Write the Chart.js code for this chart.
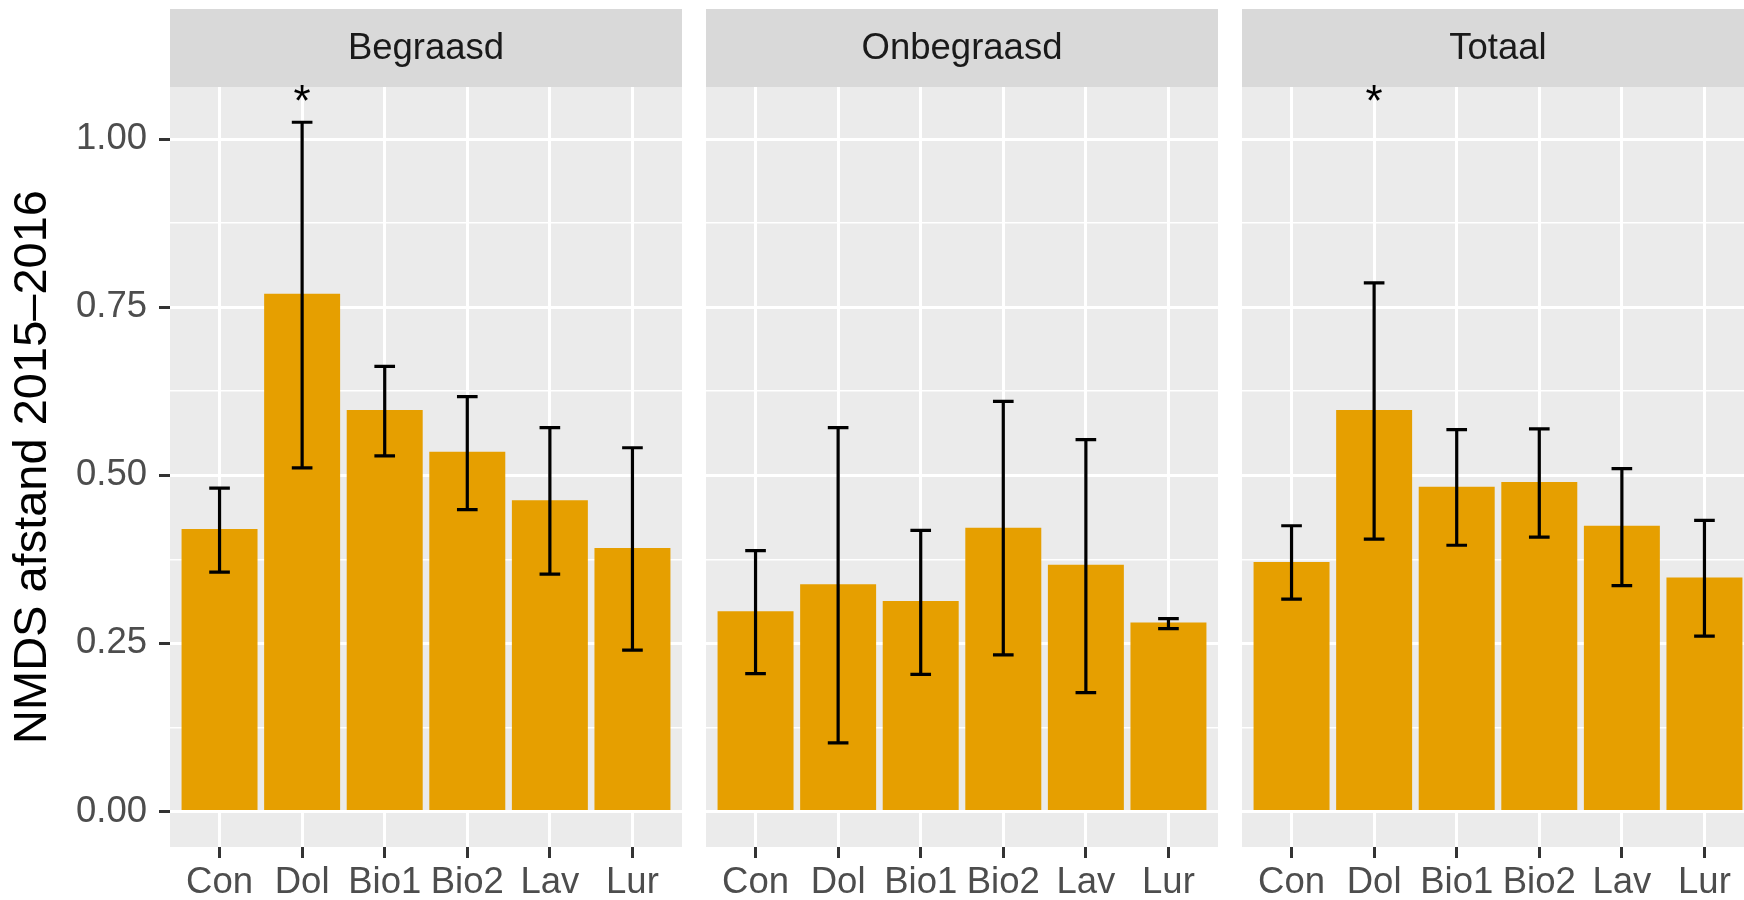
<!DOCTYPE html>
<html>
<head>
<meta charset="utf-8">
<script src="https://cdn.jsdelivr.net/npm/chart.js@4.4.1/dist/chart.umd.min.js"></script>
<style>
  html, body { margin: 0; padding: 0; background: #ffffff; overflow: hidden; width: 1744px; height: 900px; }
  canvas { position: absolute; top: 0; }
</style>
</head>
<body>
<canvas id="begraasd" width="682" height="900" style="left:0px"></canvas>
<canvas id="onbegraasd" width="512" height="900" style="left:706px"></canvas>
<canvas id="totaal" width="512" height="900" style="left:1242px"></canvas>
<script>
var categories = ['Con', 'Dol', 'Bio1', 'Bio2', 'Lav', 'Lur'];
var yTicks = [0, 0.125, 0.25, 0.375, 0.5, 0.625, 0.75, 0.875, 1];

var begraasdMean = [0.420, 0.770, 0.597, 0.535, 0.463, 0.392];
var begraasdLow  = [0.356, 0.511, 0.529, 0.449, 0.353, 0.240];
var begraasdHigh = [0.481, 1.025, 0.662, 0.617, 0.571, 0.541];
var begraasdStars = ['', '*', '', '', '', ''];

var onbegraasdMean = [0.298, 0.338, 0.313, 0.422, 0.367, 0.281];
var onbegraasdLow  = [0.205, 0.102, 0.204, 0.233, 0.177, 0.272];
var onbegraasdHigh = [0.388, 0.571, 0.418, 0.610, 0.553, 0.287];
var onbegraasdStars = ['', '', '', '', '', ''];

var totaalMean = [0.371, 0.597, 0.483, 0.490, 0.425, 0.348];
var totaalLow  = [0.316, 0.405, 0.396, 0.408, 0.336, 0.261];
var totaalHigh = [0.425, 0.786, 0.568, 0.569, 0.510, 0.433];
var totaalStars = ['', '*', '', '', '', ''];

var starY = 1.035;
var FONT = '"Liberation Sans", Arial, Helvetica, sans-serif';

function isMajor(v) {
    return Math.abs(v * 4 - Math.round(v * 4)) < 1e-9;
}

// panel background, facet strip, error bars and the significance stars
var facetPlugin = {
    id: 'facet',
    beforeDraw: function(chart, args, opts) {
        var ctx = chart.ctx;
        var a = chart.chartArea;
        ctx.save();
        ctx.fillStyle = '#EBEBEB';
        ctx.fillRect(a.left, a.top, a.right - a.left, a.bottom - a.top);
        ctx.fillStyle = '#D9D9D9';
        ctx.fillRect(a.left, 9, a.right - a.left, a.top - 9);
        ctx.fillStyle = '#1A1A1A';
        ctx.font = '36.5px ' + FONT;
        ctx.textAlign = 'center';
        ctx.textBaseline = 'middle';
        ctx.fillText(opts.title, (a.left + a.right) / 2, (9 + a.top) / 2 + 1);
        ctx.restore();
    },
    afterDatasetsDraw: function(chart, args, opts) {
        var ctx = chart.ctx;
        var xs = chart.scales.x;
        var ys = chart.scales.y;
        var half = (xs.getPixelForValue(2) - xs.getPixelForValue(1)) * 0.25 / 2;
        ctx.save();
        ctx.strokeStyle = '#000000';
        ctx.lineWidth = 3.2;
        for (var i = 0; i < categories.length; i++) {
            var px = xs.getPixelForValue(i + 1);
            var lo = ys.getPixelForValue(opts.low[i]);
            var hi = ys.getPixelForValue(opts.high[i]);
            ctx.beginPath();
            ctx.moveTo(px, lo);
            ctx.lineTo(px, hi);
            ctx.moveTo(px - half, lo);
            ctx.lineTo(px + half, lo);
            ctx.moveTo(px - half, hi);
            ctx.lineTo(px + half, hi);
            ctx.stroke();
            if (opts.stars[i]) {
                ctx.fillStyle = '#000000';
                ctx.font = '44px ' + FONT;
                ctx.textAlign = 'center';
                ctx.textBaseline = 'alphabetic';
                ctx.fillText(opts.stars[i], px, ys.getPixelForValue(starY));
            }
        }
        ctx.restore();
    }
};

function makeChart(id, title, mean, low, high, stars, first) {
    var ctx = document.getElementById(id).getContext('2d');
    return new Chart(ctx, {
        type: 'bar',
        data: {
            datasets: [{
                data: mean.map(function(v, i) { return { x: i + 1, y: v }; }),
                backgroundColor: '#E69F00',
                borderWidth: 0,
                barPercentage: 0.92,
                categoryPercentage: 1.0
            }]
        },
        options: {
            responsive: false,
            animation: false,
            layout: { padding: { top: 87, left: 0, right: 0, bottom: 0 } },
            plugins: {
                legend: { display: false },
                tooltip: { enabled: false },
                facet: { title: title, low: low, high: high, stars: stars }
            },
            scales: {
                x: {
                    type: 'linear',
                    min: 0.4,
                    max: 6.6,
                    offset: false,
                    afterBuildTicks: function(s) {
                        s.ticks = categories.map(function(_, i) { return { value: i + 1 }; });
                    },
                    afterFit: function(s) { s.height = 53; },
                    border: { display: false },
                    grid: {
                        offset: false,
                        color: '#FFFFFF',
                        lineWidth: 3,
                        tickColor: '#333333',
                        tickLength: 11,
                        tickWidth: 3
                    },
                    ticks: {
                        autoSkip: false,
                        maxRotation: 0,
                        padding: 3,
                        color: '#4D4D4D',
                        font: { family: FONT, size: 36.5, lineHeight: 1.2 },
                        callback: function(v) { return categories[v - 1]; }
                    }
                },
                y: {
                    min: -0.0527,
                    max: 1.0774,
                    afterBuildTicks: function(s) {
                        s.ticks = yTicks.map(function(v) { return { value: v }; });
                    },
                    afterFit: function(s) { s.width = first ? 170 : 0; },
                    border: { display: false },
                    grid: {
                        color: '#FFFFFF',
                        lineWidth: function(c) { return isMajor(c.tick.value) ? 3 : 1.5; },
                        drawTicks: first,
                        tickColor: function(c) { return isMajor(c.tick.value) ? '#333333' : 'rgba(0,0,0,0)'; },
                        tickLength: 11,
                        tickWidth: 3
                    },
                    ticks: {
                        display: first,
                        autoSkip: false,
                        padding: 12,
                        color: '#4D4D4D',
                        font: { family: FONT, size: 36.5 },
                        callback: function(v) { return isMajor(v) ? v.toFixed(2) : ''; }
                    },
                    title: {
                        display: first,
                        text: 'NMDS afstand 2015\u20132016',
                        color: '#000000',
                        font: { family: FONT, size: 47, lineHeight: 1.2 },
                        padding: { top: 5, bottom: 0 }
                    }
                }
            }
        },
        plugins: [facetPlugin]
    });
}

makeChart('begraasd', 'Begraasd', begraasdMean, begraasdLow, begraasdHigh, begraasdStars, true);
makeChart('onbegraasd', 'Onbegraasd', onbegraasdMean, onbegraasdLow, onbegraasdHigh, onbegraasdStars, false);
makeChart('totaal', 'Totaal', totaalMean, totaalLow, totaalHigh, totaalStars, false);
</script>
</body>
</html>
